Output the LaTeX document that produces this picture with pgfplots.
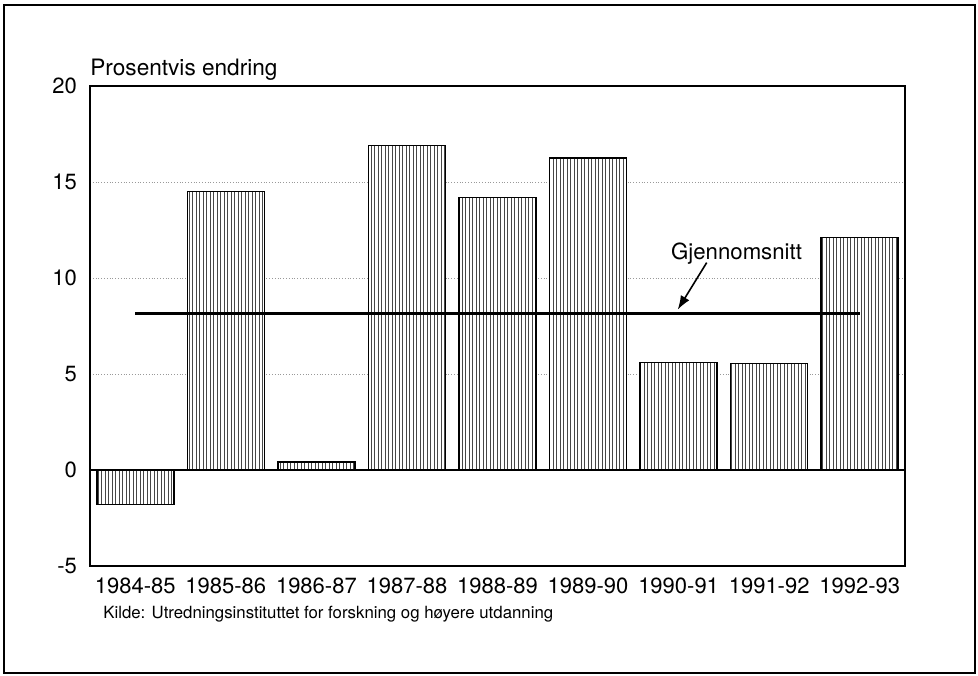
\documentclass[border=0pt]{standalone}
\usepackage{fontspec}
\setmainfont{TeX Gyre Heros}
\usepackage{pgfplots}
\pgfplotsset{compat=1.18}
\usetikzlibrary{arrows.meta,patterns.meta}

\begin{document}
\begin{tikzpicture}
  \begin{axis}[
      scale only axis,
      width=407.5pt, height=240pt,
      xmin=-0.5, xmax=8.5, ymin=-5, ymax=20,
      ytick={-5,0,5,10,15,20},
      xtick=data,
      xticklabels={1984-85,1985-86,1986-87,1987-88,1988-89,1989-90,1990-91,1991-92,1992-93},
      major tick length=0pt,
      axis line style={line width=0.8pt},
      ymajorgrids,
      grid style={densely dotted, gray!80, line width=0.5pt},
      /pgf/number format/assume math mode=true,
      ticklabel style={font=\fontsize{11}{13}\selectfont},
      yticklabel style={xshift=-3pt},
      xticklabel style={yshift=-2.3pt},
      clip=false,
    ]

    % bars, vertical hatching on white
    \addplot[ybar, bar width=0.85, draw=black, line width=0.8pt,
      preaction={fill=white},
      pattern={Lines[angle=90, distance=1.75pt, line width=0.5pt]},
      pattern color=black!72]
      coordinates {(0,-1.8) (1,14.5) (2,0.42) (3,16.9) (4,14.2)
                   (5,16.25) (6,5.6) (7,5.55) (8,12.1)};

    % zero line
    \addplot[black, line width=0.8pt] coordinates {(-0.5,0) (8.5,0)};

    % average
    \addplot[black, line width=1.1pt] coordinates {(0,8.15) (8,8.15)};

    \draw[-{Latex[length=7pt,width=5pt]}, line width=0.8pt]
      (axis cs:6.31,10.8) -- (axis cs:5.99,8.35);
    \node[anchor=base, font=\fontsize{11.1}{13}\selectfont]
      at (axis cs:6.64,10.94) {Gjennomsnitt};

    \node[anchor=base west, inner sep=0pt, font=\fontsize{11.3}{13}\selectfont]
      at ([yshift=5.5pt]rel axis cs:0,1) {Prosentvis endring};
    \node[anchor=base west, inner sep=0pt, font=\fontsize{8.4}{10}\selectfont]
      at ([xshift=6.5pt,yshift=-26pt]rel axis cs:0,0)
      {Kilde: Utredningsinstituttet for forskning og høyere utdanning};
  \end{axis}

  \draw[line width=1pt]
    ([shift={(-43pt,-53.5pt)}]current axis.south west) rectangle
    ([shift={(35pt,40.5pt)}]current axis.north east);
  \useasboundingbox
    ([shift={(-45pt,-54.5pt)}]current axis.south west) rectangle
    ([shift={(36.5pt,43pt)}]current axis.north east);
\end{tikzpicture}
\end{document}
